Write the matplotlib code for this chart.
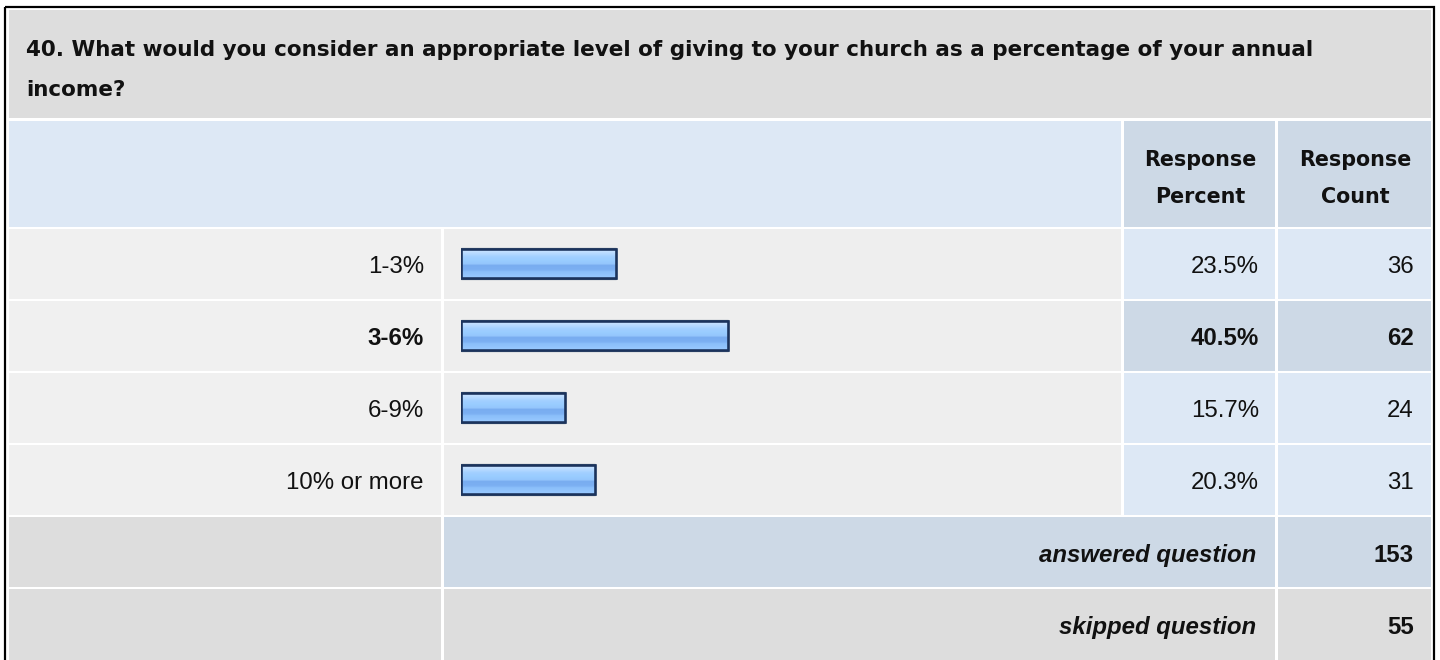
import numpy as np
import matplotlib
matplotlib.use("Agg")
import matplotlib.pyplot as plt
from matplotlib.patches import Rectangle
from matplotlib.colors import LinearSegmentedColormap

# ---------------- data ----------------
title_lines = ["40. What would you consider an appropriate level of giving to your church as a percentage of your annual",
               "income?"]
categories = ["1-3%", "3-6%", "6-9%", "10% or more"]
percents = [23.5, 40.5, 15.7, 20.3]
counts = [36, 62, 24, 31]
highlight = [False, True, False, False]
answered = 153
skipped = 55
header_cols = ["Response\nPercent", "Response\nCount"]

W, H = 1440, 660
fig = plt.figure(figsize=(W / 100, H / 100), dpi=100)
fig.patch.set_facecolor("white")
ax = fig.add_axes([0, 0, 1, 1])
ax.set_xlim(0, W)
ax.set_ylim(H, 0)
ax.axis("off")

FONT = "Liberation Sans"
WIDE = "DejaVu Sans"
def px(p):
    return p * 72 / 100

TXT = "#111111"
# colours
C_TITLE = "#dddddd"
C_HEAD_L = "#dde8f5"
C_HEAD_R = "#cdd9e6"
C_LABEL = "#f0f0f0"
C_BARCOL = "#eeeeee"
C_VAL = "#dde8f5"
C_VAL_HI = "#cdd9e6"
C_SUM = "#cdd9e6"
C_GREY = "#dddddd"

# layout (pixels)
xL0, xL1 = 9, 441
xB0, xB1 = 444, 1121
xP0, xP1 = 1124, 1275
xC0, xC1 = 1278, 1431
row0, rstep, rh = 229, 72, 70

def cell(x0, x1, y0, y1, c):
    ax.add_patch(Rectangle((x0, y0), x1 - x0, y1 - y0, facecolor=c, edgecolor="none", zorder=1))

# outer border
ax.add_patch(Rectangle((5, 7), 1428.5, 670, facecolor="none", edgecolor="black", lw=px(2.2), zorder=5))

# title
cell(xL0, xC1, 10, 118, C_TITLE)
ax.text(26, 56.5, title_lines[0], fontsize=px(21.5), fontweight="bold", family=WIDE, va="baseline", ha="left", color=TXT, zorder=3)
ax.text(26, 96, title_lines[1], fontsize=px(21.5), fontweight="bold", family=WIDE, va="baseline", ha="left", color=TXT, zorder=3)

# header
cell(xL0, xB1, 121, 227, C_HEAD_L)
cell(xP0, xP1, 121, 227, C_HEAD_R)
cell(xC0, xC1, 121, 227, C_HEAD_R)
for (x0, x1), lab in zip([(xP0, xP1), (xC0, xC1)], header_cols):
    l1, l2 = lab.split("\n")
    ax.text((x0 + x1) / 2 + 1, 166.5, l1, fontsize=px(20.6), fontweight="bold", family=WIDE, ha="center", va="baseline", color=TXT, zorder=3)
    ax.text((x0 + x1) / 2 + 1, 203, l2, fontsize=px(20.6), fontweight="bold", family=WIDE, ha="center", va="baseline", color=TXT, zorder=3)

# data rows
FS = px(24)
for i, (cat, p, c, hi) in enumerate(zip(categories, percents, counts, highlight)):
    y0 = row0 + i * rstep
    y1 = y0 + rh
    cell(xL0, xL1, y0, y1, C_LABEL)
    cell(xB0, xB1, y0, y1, C_BARCOL)
    cell(xP0, xP1, y0, y1, C_VAL_HI if hi else C_VAL)
    cell(xC0, xC1, y0, y1, C_VAL_HI if hi else C_VAL)
    fw = "bold" if hi else "normal"
    yb = y0 + 44
    ax.text(424, yb, cat, fontsize=FS, fontweight=fw, family=FONT, ha="right", va="baseline", color=TXT, zorder=3)
    ax.text(1259, yb, f"{p:.1f}%", fontsize=FS, fontweight=fw, family=FONT, ha="right", va="baseline", color=TXT, zorder=3)
    ax.text(1414, yb, f"{c}", fontsize=FS, fontweight=fw, family=FONT, ha="right", va="baseline", color=TXT, zorder=3)

# summary rows
ya0 = row0 + 4 * rstep
cell(xL0, xL1, ya0, ya0 + rh, C_GREY)
cell(xB0, xP1, ya0, ya0 + rh, C_SUM)
cell(xC0, xC1, ya0, ya0 + rh, C_SUM)
ax.text(1256, ya0 + 45, "answered question", fontsize=FS, fontweight="bold", style="italic", family=FONT, ha="right", va="baseline", color=TXT, zorder=3)
ax.text(1414, ya0 + 45, f"{answered}", fontsize=FS, fontweight="bold", family=FONT, ha="right", va="baseline", color=TXT, zorder=3)

ys0 = row0 + 5 * rstep
cell(xL0, xL1, ys0, H + 10, C_GREY)
cell(xB0, xP1, ys0, H + 10, C_GREY)
cell(xC0, xC1, ys0, H + 10, C_GREY)
ax.text(1256, ys0 + 45, "skipped question", fontsize=FS, fontweight="bold", style="italic", family=FONT, ha="right", va="baseline", color=TXT, zorder=3)
ax.text(1414, ys0 + 45, f"{skipped}", fontsize=FS, fontweight="bold", family=FONT, ha="right", va="baseline", color=TXT, zorder=3)

# bars in their own axes (0..100 %)
bx0, bx1 = 461, 1121
by0, by1 = row0 - 1.5, row0 + 4 * rstep - 1.5
bax = fig.add_axes([bx0 / W, 1 - by1 / H, (bx1 - bx0) / W, (by1 - by0) / H])
bax.set_xlim(0, 100)
bax.set_ylim(len(categories) - 0.5, -0.5)
bax.axis("off")
bax.patch.set_alpha(0)

grad = LinearSegmentedColormap.from_list("bar", [
    (0.0, "#cfe7ff"), (0.12, "#bcdcff"), (0.25, "#a3d0ff"), (0.4, "#99ccff"),
    (0.52, "#94c6fc"), (0.56, "#78acf0"), (0.72, "#7cb0f2"), (0.78, "#8abefa"), (1.0, "#99caff")])
gimg = np.linspace(0, 1, 64).reshape(-1, 1)
bh = 29 / 72
yidx = np.arange(len(categories))
# lighter outer outline
bax.barh(yidx, percents, height=bh + 2 / 72, left=0, facecolor="none", edgecolor="#56677f", linewidth=px(1.2), zorder=4)
bars = bax.barh(yidx, percents, height=bh, left=0, facecolor="none", edgecolor="#1b335c", linewidth=px(2.6), zorder=5)
for b, yi, v in zip(bars, yidx, percents):
    im = bax.imshow(gimg, cmap=grad, aspect="auto", interpolation="bilinear",
                    extent=[0, v, yi + bh / 2, yi - bh / 2], zorder=3)
    im.set_clip_path(b)
bax.set_xlim(0, 100)
bax.set_ylim(len(categories) - 0.5, -0.5)

fig.savefig("out.png", dpi=100, facecolor="white")
